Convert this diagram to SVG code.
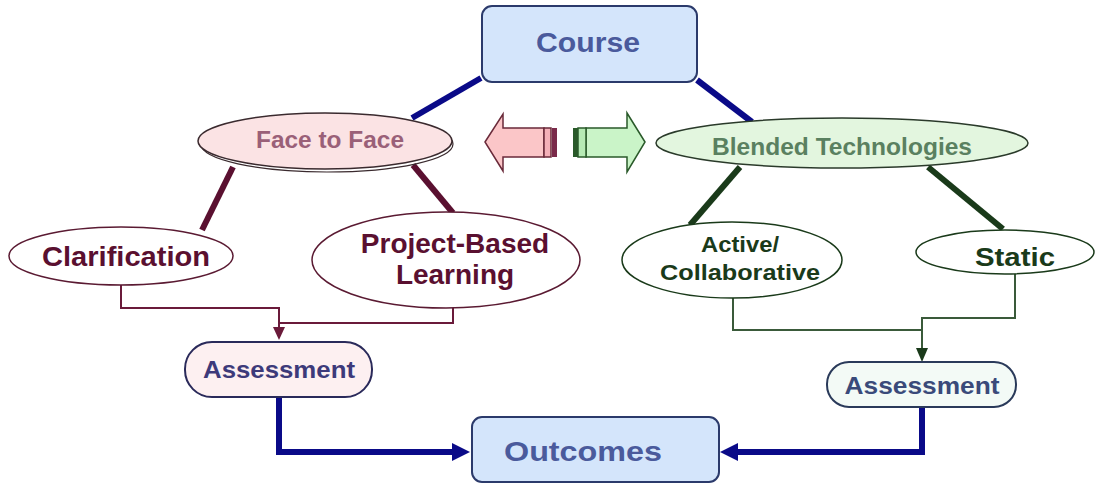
<svg xmlns="http://www.w3.org/2000/svg" width="1101" height="484" viewBox="0 0 1101 484">
  <style>
    text { font-family: "Liberation Sans", Arial, sans-serif; font-weight: bold; text-anchor: middle; }
    .box { fill: #d4e5fb; stroke: #2b3a6b; stroke-width: 2; }
    .boxtxt { fill: #4a5a9c; font-size: 28px; }
    .f2f { fill: #fbe3e4; stroke: #3a2a2e; stroke-width: 1.5; }
    .f2ftxt { fill: #9a6078; font-size: 24px; }
    .bt { fill: #e3f6df; stroke: #2a3a2a; stroke-width: 1.5; }
    .bttxt { fill: #5a8060; font-size: 24px; }
    .mnode { fill: #ffffff; stroke: #5a1a32; stroke-width: 1.5; }
    .mtxt { fill: #5a1030; font-size: 28px; }
    .gnode { fill: #ffffff; stroke: #1a3a1a; stroke-width: 1.5; }
    .gtxt { fill: #1a3a1a; }
    .assessL { fill: #fdf0f1; stroke: #2a2a5a; stroke-width: 2; }
    .assessR { fill: #f3faf6; stroke: #2a3a5a; stroke-width: 2; }
    .atxt { fill: #3d3a7a; font-size: 24px; }
    .navy { fill: none; stroke: #0a0a88; stroke-width: 6; }
    .maroon { fill: none; stroke: #5a1030; stroke-width: 6; }
    .dkgreen { fill: none; stroke: #1a3a1a; stroke-width: 6; }
    .mflow { fill: none; stroke: #6a1a3a; stroke-width: 2; }
    .gflow { fill: none; stroke: #3a5a3a; stroke-width: 2; }
  </style>
  <defs>
    <marker id="headNavy" markerUnits="userSpaceOnUse" markerWidth="18" markerHeight="18" refX="0" refY="9" orient="auto">
      <path d="M0,0 L18,9 L0,18 z" fill="#0a0a88"/>
    </marker>
    <marker id="headMaroon" markerUnits="userSpaceOnUse" markerWidth="13" markerHeight="12" refX="0" refY="6" orient="auto">
      <path d="M0,0 L13,6 L0,12 z" fill="#6a1a3a"/>
    </marker>
    <marker id="headGreen" markerUnits="userSpaceOnUse" markerWidth="14" markerHeight="12" refX="0" refY="6" orient="auto">
      <path d="M0,0 L14,6 L0,12 z" fill="#1a3a1a"/>
    </marker>
  </defs>

  <rect width="1101" height="484" fill="#ffffff"/>

  <!-- connectors -->
  <g id="connectors">
    <line class="navy" x1="481" y1="78" x2="412" y2="118"/>
    <line class="navy" x1="697" y1="80" x2="752" y2="122"/>
    <line class="maroon" x1="233" y1="167" x2="202" y2="230"/>
    <line class="maroon" x1="413" y1="165" x2="453" y2="213"/>
    <line class="dkgreen" x1="740" y1="167" x2="690" y2="225"/>
    <line class="dkgreen" x1="928" y1="167" x2="1003" y2="229"/>
    <path class="mflow" d="M121 285 V308 H279 V327" marker-end="url(#headMaroon)"/>
    <path class="mflow" d="M453 307 V323 H279"/>
    <path class="gflow" d="M733 298 V330 H922"/>
    <path class="gflow" d="M1015 273 V318 H922 V348" marker-end="url(#headGreen)"/>
    <path class="navy" d="M279 397 V452 H452" marker-end="url(#headNavy)"/>
    <path class="navy" d="M922 407 V452 H738" marker-end="url(#headNavy)"/>
  </g>

  <!-- two-way block arrows between the delivery modes -->
  <g id="modeArrows">
    <polygon points="485,142 503,114 503,128 544,128 544,157 503,157 503,171" fill="#fbc6c8" stroke="#6a2a3a" stroke-width="1.5"/>
    <rect x="544" y="128" width="7" height="29" fill="#f4b0b8" stroke="#6a2a3a" stroke-width="1.5"/>
    <rect x="552" y="128" width="5" height="29" fill="#7a2a4a"/>
    <polygon points="645,142 627,113 627,128 586,128 586,157 627,157 627,172" fill="#caf4c8" stroke="#2a5a2a" stroke-width="1.5"/>
    <rect x="578" y="128" width="8" height="29" fill="#b6eab4" stroke="#2a5a2a" stroke-width="1.5"/>
    <rect x="573" y="128" width="5" height="29" fill="#2a5a2a"/>
  </g>

  <g id="course">
    <rect class="box" x="482" y="6" width="215" height="76" rx="10"/>
    <text class="boxtxt" x="588" y="52" textLength="104" lengthAdjust="spacingAndGlyphs">Course</text>
  </g>

  <g id="faceToFace">
    <ellipse cx="327" cy="144" rx="126" ry="28" fill="none" stroke="#3a2a2e" stroke-width="1.2"/>
    <ellipse class="f2f" cx="325" cy="141" rx="127" ry="28"/>
    <text class="f2ftxt" x="330" y="148" textLength="148" lengthAdjust="spacingAndGlyphs">Face to Face</text>
  </g>

  <g id="blended">
    <ellipse class="bt" cx="842" cy="143" rx="186" ry="25"/>
    <text class="bttxt" x="842" y="155" textLength="260" lengthAdjust="spacingAndGlyphs">Blended Technologies</text>
  </g>

  <g id="clarification">
    <ellipse class="mnode" cx="121" cy="256" rx="112" ry="29"/>
    <text class="mtxt" x="126" y="266" style="font-size:27px" textLength="168" lengthAdjust="spacingAndGlyphs">Clarification</text>
  </g>

  <g id="projectBased">
    <ellipse class="mnode" cx="446" cy="260" rx="134" ry="48"/>
    <text class="mtxt" x="455" y="253">Project-Based</text>
    <text class="mtxt" x="455" y="284">Learning</text>
  </g>

  <g id="activeCollab">
    <ellipse class="gnode" cx="732" cy="260" rx="110" ry="38"/>
    <text class="gtxt" x="740" y="252" style="font-size:22px" textLength="78" lengthAdjust="spacingAndGlyphs">Active/</text>
    <text class="gtxt" x="740" y="280" style="font-size:22px" textLength="160" lengthAdjust="spacingAndGlyphs">Collaborative</text>
  </g>

  <g id="static">
    <ellipse class="gnode" cx="1005" cy="252" rx="89" ry="22"/>
    <text class="gtxt" x="1015" y="266" style="font-size:25px" textLength="80" lengthAdjust="spacingAndGlyphs">Static</text>
  </g>

  <g id="assessmentLeft">
    <rect class="assessL" x="185" y="342" width="187" height="55" rx="27"/>
    <text class="atxt" x="279" y="378" textLength="152" lengthAdjust="spacingAndGlyphs">Assessment</text>
  </g>

  <g id="assessmentRight">
    <rect class="assessR" x="827" y="362" width="189" height="45" rx="22"/>
    <text class="atxt" x="922" y="394" style="fill:#3a4a7a" textLength="155" lengthAdjust="spacingAndGlyphs">Assessment</text>
  </g>

  <g id="outcomes">
    <rect class="box" x="472" y="417" width="247" height="65" rx="10"/>
    <text class="boxtxt" x="583" y="461" textLength="158" lengthAdjust="spacingAndGlyphs">Outcomes</text>
  </g>
</svg>
